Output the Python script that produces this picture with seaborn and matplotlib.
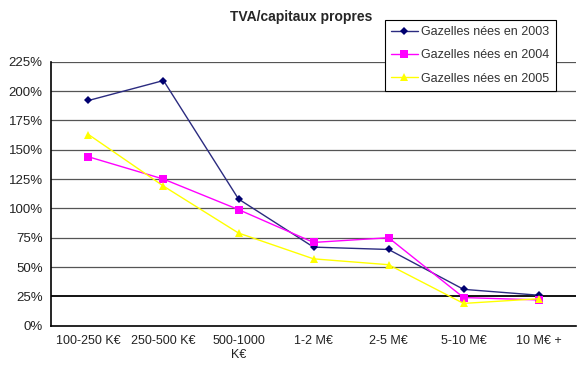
import matplotlib
matplotlib.use("Agg")
import matplotlib.pyplot as plt
import seaborn as sns
import pandas as pd
from matplotlib.ticker import FixedLocator, FuncFormatter

categories = ["100-250 K€", "250-500 K€", "500-1000\nK€", "1-2 M€", "2-5 M€", "5-10 M€", "10 M€ +"]
series_names = ["Gazelles nées en 2003", "Gazelles nées en 2004", "Gazelles nées en 2005"]
v2003 = [192, 209, 108, 67, 65, 31, 26]
v2004 = [144, 125, 99, 71, 75, 24, 22]
v2005 = [163, 119, 79, 57, 52, 19, 23]
y_ticks = [0, 25, 50, 75, 100, 125, 150, 175, 200, 225]

rows = []
for name, vals in zip(series_names, [v2003, v2004, v2005]):
    for c, v in zip(categories, vals):
        rows.append({"cat": c, "val": v, "series": name})
df = pd.DataFrame(rows)

sns.set_style("white")
plt.rcParams["font.family"] = ["Liberation Sans", "DejaVu Sans"]

fig = plt.figure(figsize=(5.79, 3.79), dpi=100)
ax = fig.add_axes([0.088, 0.1406, 0.907, 0.6964])

palette = {series_names[0]: "#2b2b80", series_names[1]: "#ff00ff", series_names[2]: "#ffff00"}
markers = {series_names[0]: "D", series_names[1]: "s", series_names[2]: "^"}
sizes = {series_names[0]: 4, series_names[1]: 6, series_names[2]: 6}

for name in series_names:
    sub = df[df["series"] == name]
    sns.lineplot(data=sub, x="cat", y="val", ax=ax, color=palette[name], marker=markers[name],
                 markersize=sizes[name], markeredgewidth=0, linewidth=1.0, sort=False,
                 label=name, markerfacecolor=("#000070" if name == series_names[0] else palette[name]))

ax.set_xlim(-0.5, len(categories) - 0.5)
ax.set_ylim(0, 225)
ax.set_yticks(y_ticks)
ax.yaxis.set_major_formatter(FuncFormatter(lambda v, p: f"{int(v)}%"))
ax.set_xticks(range(len(categories)))
ax.set_xticklabels(categories)
ax.xaxis.set_minor_locator(FixedLocator([i - 0.5 for i in range(len(categories) + 1)]))
ax.tick_params(axis="x", which="major", length=0, labelsize=9, pad=7, colors="#222222")
ax.tick_params(axis="x", which="minor", length=4, width=1, color="black", direction="out")
ax.tick_params(axis="y", length=4, width=1, color="black", direction="out", labelsize=9.5,
               labelcolor="#222222", pad=2)
ax.set_xlabel("")
ax.set_ylabel("")

for y in y_ticks[1:]:
    ax.axhline(y, color="black" if y == 25 else "#555555", linewidth=1.3 if y == 25 else 0.9, zorder=0)

for s in ["top", "right"]:
    ax.spines[s].set_visible(False)
for s in ["left", "bottom"]:
    ax.spines[s].set_color("black")
    ax.spines[s].set_linewidth(1.2)

fig.text(0.52, 0.955, "TVA/capitaux propres", ha="center", va="center", fontsize=10, fontweight="bold")

leg = ax.legend(loc="upper left", bbox_to_anchor=(385 / 579, 1 - 20 / 379),
                bbox_transform=fig.transFigure, frameon=True, fancybox=False,
                fontsize=9, handlelength=2.1, borderpad=0.5, labelspacing=0.9,
                handletextpad=0.3, borderaxespad=0)
leg.get_frame().set_edgecolor("black")
leg.get_frame().set_linewidth(0.8)
leg.get_frame().set_alpha(1)
for t in leg.get_texts():
    t.set_color("#333333")

fig.savefig("out.png", dpi=100, facecolor="white")
